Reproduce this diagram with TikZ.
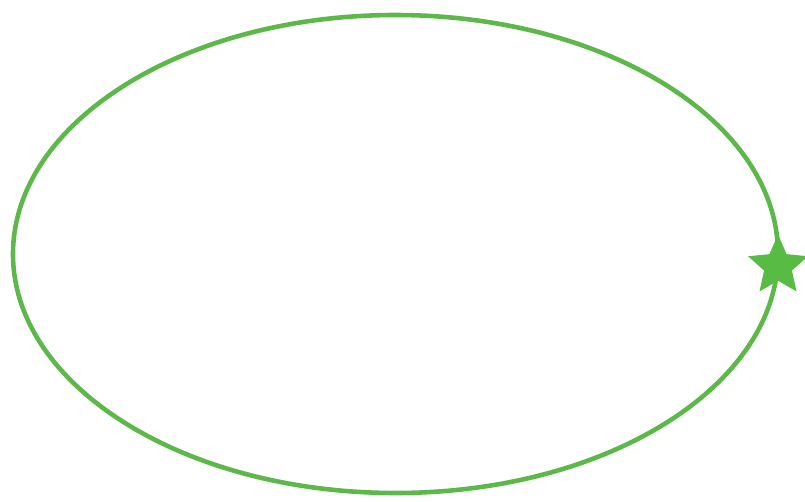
\documentclass[tikz,border=0pt]{standalone}
\usepackage{tikz}
\usetikzlibrary{shapes.geometric}
\definecolor{OrbitGreen}{HTML}{5DB84A}
\definecolor{StarGreen}{HTML}{58BC44}
\tikzset{
  orbit/.style={draw=OrbitGreen,line width=2.6pt},
  marker/.style={star,star points=5,star point ratio=2.15,fill=StarGreen,
    draw=none,inner sep=0pt,minimum size=1.26cm}
}
\begin{document}
\begin{tikzpicture}[x=0.02cm,y=-0.02cm]
  \useasboundingbox (0,0) rectangle (805,501);
  \draw[orbit] (395.5,254) ellipse [x radius=382.5,y radius=239];
  \node[marker] (planet) at (778,266) {};
\end{tikzpicture}
\end{document}
